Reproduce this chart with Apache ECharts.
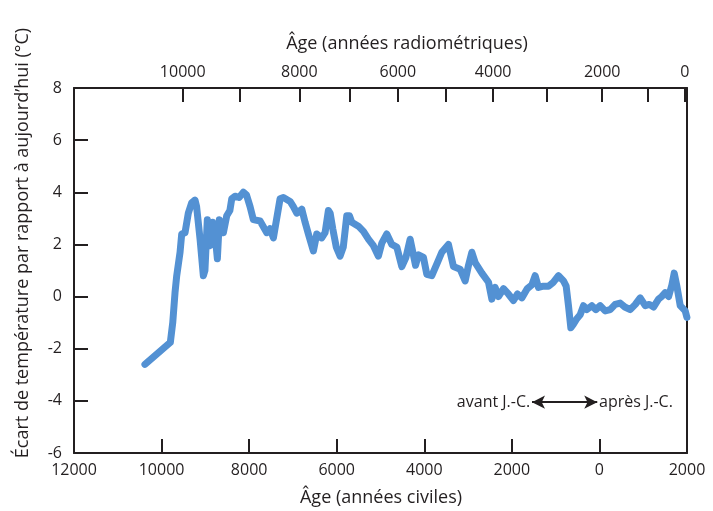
<!DOCTYPE html>
<html>
<head>
<meta charset="utf-8">
<script src="https://cdn.jsdelivr.net/npm/echarts@6/dist/echarts.min.js"></script>
<style>
  html, body { margin: 0; padding: 0; background: #ffffff; }
  #chart { width: 713px; height: 511px; }
</style>
</head>
<body>
<div id="chart"></div>
<script>
// Civil years (negative = avant J.-C.)
const years = [
  -10380, -9800, -9745, -9693, -9654, -9578, -9540, -9464, -9389, -9311,
  -9236, -9200, -9121, -9046, -9010, -8955, -8893, -8831, -8780, -8726,
  -8680, -8589, -8512, -8440, -8397, -8322, -8230, -8132, -8060, -7979,
  -7904, -7750, -7597, -7522, -7446, -7294, -7218, -7065, -6990, -6912,
  -6798, -6722, -6647, -6533, -6456, -6342, -6266, -6190, -6150, -6090,
  -6010, -5923, -5850, -5770, -5710, -5656, -5505, -5390, -5276, -5162,
  -5048, -4970, -4856, -4742, -4627, -4513, -4420, -4323, -4200, -4133,
  -4019, -3942, -3828, -3700, -3600, -3448, -3334, -3181, -3067, -2990,
  -2914, -2838, -2685, -2533, -2457, -2382, -2306, -2191, -2080, -1963,
  -1870, -1772, -1650, -1543, -1468, -1392, -1280, -1164, -1050, -935,
  -897, -821, -760, -707, -653, -590, -516, -440, -364, -287,
  -173, -80, 17, 131, 246, 360, 474, 580, 703, 820,
  931, 1046, 1140, 1236, 1350, 1420, 1502, 1580, 1655, 1708,
  1769, 1845, 1959, 1998
];
// Temperature anomaly (°C)
const temps = [
  -2.6, -1.76, -1.0, 0.15, 0.8, 1.7, 2.4, 2.45, 3.2, 3.6,
  3.7, 3.45, 2.2, 0.8, 1.0, 2.95, 1.95, 2.85, 2.4, 1.45,
  2.95, 2.45, 3.1, 3.3, 3.75, 3.85, 3.8, 4.0, 3.9, 3.45,
  2.95, 2.9, 2.45, 2.6, 2.25, 3.75, 3.8, 3.65, 3.45, 3.2,
  3.35, 2.85, 2.4, 1.75, 2.4, 2.25, 2.45, 3.3, 3.2, 2.6,
  1.9, 1.55, 1.9, 3.1, 3.1, 2.85, 2.7, 2.5, 2.2, 1.95,
  1.55, 2.05, 2.4, 2.0, 1.9, 1.15, 1.5, 2.2, 1.2, 1.6,
  1.5, 0.85, 0.8, 1.3, 1.7, 2.0, 1.15, 1.05, 0.6, 1.2,
  1.7, 1.3, 0.9, 0.55, -0.1, 0.35, 0.0, 0.3, 0.1, -0.15,
  0.1, -0.05, 0.3, 0.45, 0.8, 0.35, 0.4, 0.4, 0.55, 0.8,
  0.8, 0.6, 0.4, -0.35, -1.2, -1.05, -0.85, -0.7, -0.35, -0.5,
  -0.35, -0.5, -0.35, -0.55, -0.5, -0.3, -0.25, -0.4, -0.5, -0.3,
  -0.05, -0.35, -0.3, -0.4, -0.1, 0.0, 0.15, 0.0, 0.45, 0.9,
  0.4, -0.35, -0.55, -0.8
];
// Top axis: radiometric ages and their position on the civil-year scale
const radioTickPositions = [-9517, -8207, -6853, -5694, -4605, -3508, -2427, -1193, 63, 1114, 1950];
const radioTickAges      = [10000, 9000, 8000, 7000, 6000, 5000, 4000, 3000, 2000, 1000, 0];
const radioLabelAges     = [10000, 8000, 6000, 4000, 2000, 0];

const yTitle = "Écart de température par rapport à aujourd’hui (°C)";
const xTitle = "Âge (années civiles)";
const x2Title = "Âge (années radiométriques)";
const beforeText = "avant J.-C.";
const afterText = "après J.-C.";
const arrowY = -4.05;
const arrowFrom = -1540;
const arrowTo = -50;

const FONT = "'Open Sans', 'Noto Sans', sans-serif";
const INK = '#231f20';

const radioLabelPositions = radioLabelAges.map(a => radioTickPositions[radioTickAges.indexOf(a)]);

const chart = echarts.init(document.getElementById('chart'), null, { renderer: 'canvas' });
chart.setOption({
  animation: false,
  backgroundColor: '#ffffff',
  textStyle: { fontFamily: FONT },
  grid: { left: 74, top: 88, width: 613, height: 365, containLabel: false },
  xAxis: [
    {
      type: 'value', position: 'bottom', min: -12000, max: 2000, interval: 2000,
      axisLine: { show: true, onZero: false, lineStyle: { color: INK, width: 2 } },
      axisTick: { show: true, inside: true, length: 14, lineStyle: { color: INK, width: 2 } },
      axisLabel: { color: INK, fontSize: 16, fontFamily: FONT, margin: 9,
        formatter: v => String(Math.abs(v)) },
      splitLine: { show: false }
    },
    {
      type: 'value', position: 'top', min: -12000, max: 2000,
      axisLine: { show: true, onZero: false, lineStyle: { color: INK, width: 2 } },
      axisTick: { show: true, inside: true, length: 14, customValues: radioTickPositions,
        lineStyle: { color: INK, width: 2 } },
      axisLabel: { color: INK, fontSize: 16, fontFamily: FONT, margin: 8,
        customValues: radioLabelPositions,
        formatter: v => {
          const i = radioTickPositions.indexOf(v);
          return i >= 0 ? String(radioTickAges[i]) : '';
        } },
      splitLine: { show: false }
    }
  ],
  yAxis: [
    {
      type: 'value', position: 'left', min: -6, max: 8, interval: 2,
      axisLine: { show: true, onZero: false, lineStyle: { color: INK, width: 2 } },
      axisTick: { show: true, inside: true, length: 14, lineStyle: { color: INK, width: 2 } },
      axisLabel: { color: INK, fontSize: 16, fontFamily: FONT, margin: 12 },
      splitLine: { show: false }
    },
    {
      type: 'value', position: 'right', min: -6, max: 8, interval: 2,
      axisLine: { show: true, onZero: false, lineStyle: { color: INK, width: 2 } },
      axisTick: { show: false },
      axisLabel: { show: false },
      splitLine: { show: false }
    }
  ],
  series: [
    {
      type: 'line',
      xAxisIndex: 0, yAxisIndex: 0,
      data: years.map((y, i) => [y, temps[i]]),
      showSymbol: false,
      symbol: 'none',
      lineStyle: { color: '#5391d3', width: 7, cap: 'round', join: 'round' },
      z: 3,
      markLine: {
        silent: true,
        symbol: ['arrow', 'arrow'],
        symbolSize: [10, 13],
        label: { show: false },
        lineStyle: { color: INK, width: 2, type: 'solid' },
        data: [[ { coord: [arrowFrom, arrowY] }, { coord: [arrowTo, arrowY] } ]]
      },
      markPoint: {
        silent: true,
        symbol: 'circle',
        symbolSize: 0,
        data: [
          { coord: [arrowFrom - 40, arrowY],
            label: { show: true, position: 'left', distance: 0, formatter: beforeText,
                     color: INK, fontSize: 16, fontFamily: FONT } },
          { coord: [arrowTo + 40, arrowY],
            label: { show: true, position: 'right', distance: 0, formatter: afterText,
                     color: INK, fontSize: 16, fontFamily: FONT } }
        ]
      }
    }
  ],
  graphic: [
    { type: 'text', x: 381, y: 498, style: { text: xTitle, fill: INK, font: '18px ' + FONT,
      textAlign: 'center', textVerticalAlign: 'middle' } },
    { type: 'text', x: 407, y: 44, style: { text: x2Title, fill: INK, font: '18px ' + FONT,
      textAlign: 'center', textVerticalAlign: 'middle' } },
    { type: 'text', x: 23, y: 243, rotation: Math.PI / 2, style: { text: yTitle, fill: INK,
      font: '18px ' + FONT, textAlign: 'center', textVerticalAlign: 'middle' } }
  ]
});
</script>
</body>
</html>
